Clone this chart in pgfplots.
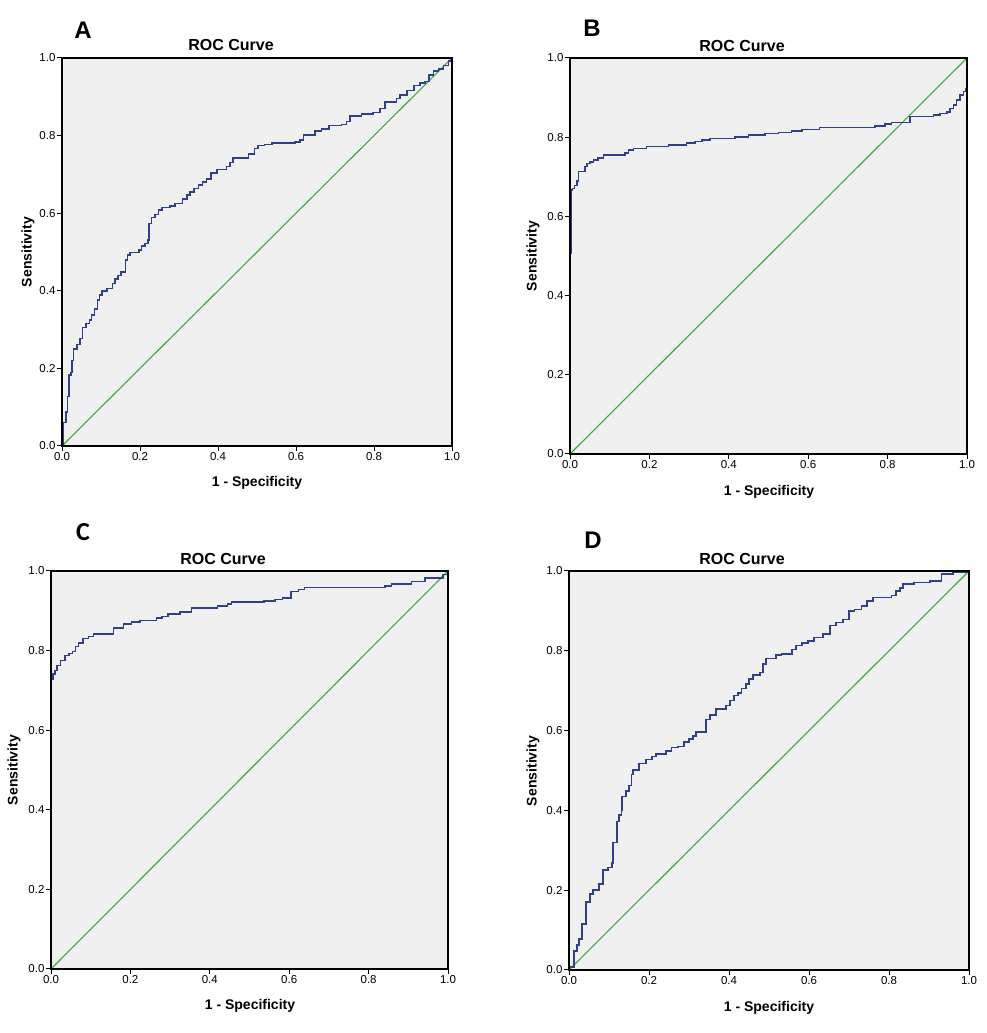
\documentclass[border=0pt]{standalone}
\usepackage{fontspec}
\setmainfont{Liberation Sans}
\newfontfamily\calib{Carlito}
\usepackage{pgfplots}
\pgfplotsset{compat=1.18}
\definecolor{rocblue}{RGB}{50,64,138}
\definecolor{rocgreen}{RGB}{62,168,72}
\definecolor{bgray}{RGB}{240,240,240}
\pgfplotsset{
  rocax/.style={
    scale only axis,
    anchor=south west,
    axis on top,
    xmin=0, xmax=1, ymin=0, ymax=1,
    xtick={0,0.2,0.4,0.6,0.8,1}, ytick={0,0.2,0.4,0.6,0.8,1},
    tick align=outside, major tick length=5pt,
    tick style={black, line width=1pt},
    axis line style={black, line width=1.3pt},
    axis background/.style={fill=bgray},
    xtick pos=bottom, ytick pos=left,
    /pgf/number format/assume math mode=true,
    /pgf/number format/.cd, fixed, fixed zerofill, precision=1, /pgfplots/.cd,
    tick label style={font=\fontsize{11.5}{13}\selectfont},
    xticklabel style={yshift=2pt},
    yticklabel style={xshift=2pt},
    clip=true,
  },
  roc/.style={rocblue, line width=1.5pt, const plot},
  diag/.style={rocgreen, line width=1.1pt},
}
\newcommand{\titlefont}{\fontsize{16}{18}\selectfont\bfseries}
\newcommand{\labfont}{\fontsize{14}{16}\selectfont\bfseries}
\begin{document}
\begin{tikzpicture}[x=1pt,y=1pt]
\path[use as bounding box] (0,0) rectangle (986,1033);
% ---------------- A
\begin{axis}[rocax, at={(62pt,587pt)}, width=390pt, height=388pt]
\addplot[diag] coordinates {(0,0) (1,1)};
\addplot[roc] coordinates {
(0,0) (0.0034,0.06) (0.010,0.088) (0.014,0.127) (0.018,0.183) (0.023,0.19) (0.026,0.22)
(0.030,0.25) (0.038,0.262) (0.046,0.277) (0.052,0.305) (0.061,0.316) (0.070,0.325)
(0.076,0.338) (0.083,0.353) (0.091,0.376) (0.096,0.389) (0.102,0.40) (0.115,0.406)
(0.129,0.419) (0.136,0.43) (0.144,0.44) (0.151,0.449) (0.163,0.479) (0.168,0.492)
(0.174,0.499) (0.197,0.505) (0.204,0.516) (0.213,0.522) (0.221,0.531) (0.223,0.574)
(0.23,0.589) (0.238,0.597) (0.247,0.608) (0.256,0.615) (0.277,0.619) (0.29,0.625)
(0.309,0.637) (0.32,0.647) (0.328,0.655) (0.339,0.664) (0.35,0.673) (0.36,0.68)
(0.371,0.688) (0.382,0.703) (0.397,0.713) (0.422,0.72) (0.431,0.731) (0.439,0.742)
(0.478,0.752) (0.493,0.767) (0.503,0.774) (0.519,0.777) (0.539,0.781) (0.597,0.783)
(0.61,0.789) (0.619,0.802) (0.649,0.812) (0.666,0.817) (0.685,0.826) (0.717,0.829)
(0.73,0.836) (0.738,0.851) (0.768,0.855) (0.798,0.86) (0.815,0.87) (0.828,0.887)
(0.858,0.896) (0.867,0.905) (0.884,0.916) (0.903,0.929) (0.918,0.935) (0.931,0.939)
(0.941,0.956) (0.952,0.966) (0.965,0.972) (0.978,0.98) (0.991,0.992) (1,1)};
\end{axis}
% ---------------- B
\begin{axis}[rocax, at={(570pt,579pt)}, width=397pt, height=396pt]
\addplot[diag] coordinates {(0,0) (1,1)};
\addplot[roc] coordinates {
(0,0) (0,0.507) (0.003,0.667) (0.006,0.671) (0.011,0.678) (0.017,0.689) (0.021,0.713) (0.038,0.726)
(0.043,0.734) (0.05,0.737) (0.059,0.742) (0.071,0.747) (0.084,0.755) (0.139,0.76)
(0.147,0.768) (0.16,0.772) (0.193,0.776) (0.248,0.78) (0.294,0.785) (0.315,0.789)
(0.332,0.793) (0.353,0.797) (0.416,0.801) (0.45,0.806) (0.491,0.809) (0.525,0.812)
(0.558,0.816) (0.584,0.82) (0.629,0.825) (0.768,0.828) (0.793,0.833) (0.81,0.837)
(0.856,0.852) (0.915,0.856) (0.932,0.86) (0.949,0.864) (0.957,0.873) (0.966,0.881)
(0.974,0.894) (0.982,0.907) (0.991,0.915) (0.998,0.923) (1,1)};
\end{axis}
% ---------------- C
\begin{axis}[rocax, at={(51pt,64pt)}, width=397pt, height=398pt]
\addplot[diag] coordinates {(0,0) (1,1)};
\addplot[roc] coordinates {
(0,0) (0,0.719) (0.0017,0.727) (0.005,0.741) (0.01,0.75) (0.015,0.763) (0.024,0.775)
(0.035,0.788) (0.045,0.793) (0.054,0.798) (0.062,0.81) (0.069,0.819) (0.081,0.83)
(0.094,0.835) (0.107,0.842) (0.157,0.857) (0.182,0.867) (0.203,0.872) (0.224,0.876)
(0.266,0.882) (0.28,0.886) (0.295,0.892) (0.325,0.897) (0.354,0.907) (0.42,0.912)
(0.445,0.917) (0.455,0.922) (0.537,0.925) (0.564,0.928) (0.583,0.932) (0.605,0.949)
(0.623,0.954) (0.638,0.959) (0.841,0.962) (0.858,0.967) (0.908,0.974) (0.942,0.982)
(0.988,0.991) (1,1)};
\end{axis}
% ---------------- D
\begin{axis}[rocax, at={(569pt,63pt)}, width=400pt, height=399pt]
\addplot[diag] coordinates {(0,0) (1,1)};
\addplot[roc] coordinates {
(0,0) (0,0.007) (0.0125,0.048) (0.02,0.063) (0.025,0.078) (0.033,0.115) (0.042,0.17)
(0.053,0.19) (0.06,0.201) (0.075,0.216) (0.085,0.251) (0.098,0.257) (0.108,0.268)
(0.11,0.32) (0.12,0.372) (0.125,0.389) (0.131,0.401) (0.133,0.435) (0.143,0.449)
(0.15,0.462) (0.156,0.49) (0.16,0.501) (0.175,0.518) (0.192,0.527) (0.208,0.535)
(0.217,0.541) (0.243,0.549) (0.256,0.558) (0.273,0.56) (0.287,0.572) (0.3,0.579)
(0.31,0.587) (0.318,0.596) (0.342,0.628) (0.352,0.639) (0.367,0.654) (0.393,0.663)
(0.403,0.675) (0.412,0.688) (0.423,0.694) (0.431,0.706) (0.442,0.717) (0.45,0.729)
(0.46,0.739) (0.477,0.746) (0.485,0.767) (0.493,0.781) (0.518,0.789) (0.531,0.792)
(0.558,0.803) (0.567,0.813) (0.583,0.819) (0.598,0.825) (0.612,0.833) (0.635,0.842)
(0.652,0.863) (0.668,0.871) (0.685,0.879) (0.7,0.9) (0.714,0.904) (0.731,0.912)
(0.745,0.925) (0.76,0.933) (0.806,0.939) (0.818,0.95) (0.827,0.958) (0.835,0.967)
(0.862,0.971) (0.902,0.975) (0.931,0.992) (0.96,0.996) (1,1)};
\end{axis}
% ---------------- text
\node[font=\fontsize{24}{26}\selectfont\bfseries] at (83,1003) {A};
\node[font=\fontsize{24}{26}\selectfont\bfseries] at (592,1005) {B};
\node[font=\fontsize{26}{28}\selectfont\bfseries\calib] at (83,501) {C};
\node[font=\fontsize{24}{26}\selectfont\bfseries] at (593,493) {D};
\node[font=\titlefont] at (231,988) {ROC Curve};
\node[font=\titlefont] at (742,987) {ROC Curve};
\node[font=\titlefont] at (223,474) {ROC Curve};
\node[font=\titlefont] at (742,474) {ROC Curve};
\node[font=\labfont] at (257,550) {1 - Specificity};
\node[font=\labfont] at (769,541) {1 - Specificity};
\node[font=\labfont] at (250,27) {1 - Specificity};
\node[font=\labfont] at (769,25) {1 - Specificity};
\node[font=\labfont, rotate=90] at (28,781) {Sensitivity};
\node[font=\labfont, rotate=90] at (533,777) {Sensitivity};
\node[font=\labfont, rotate=90] at (14,263) {Sensitivity};
\node[font=\labfont, rotate=90] at (533,262) {Sensitivity};
\end{tikzpicture}
\end{document}
